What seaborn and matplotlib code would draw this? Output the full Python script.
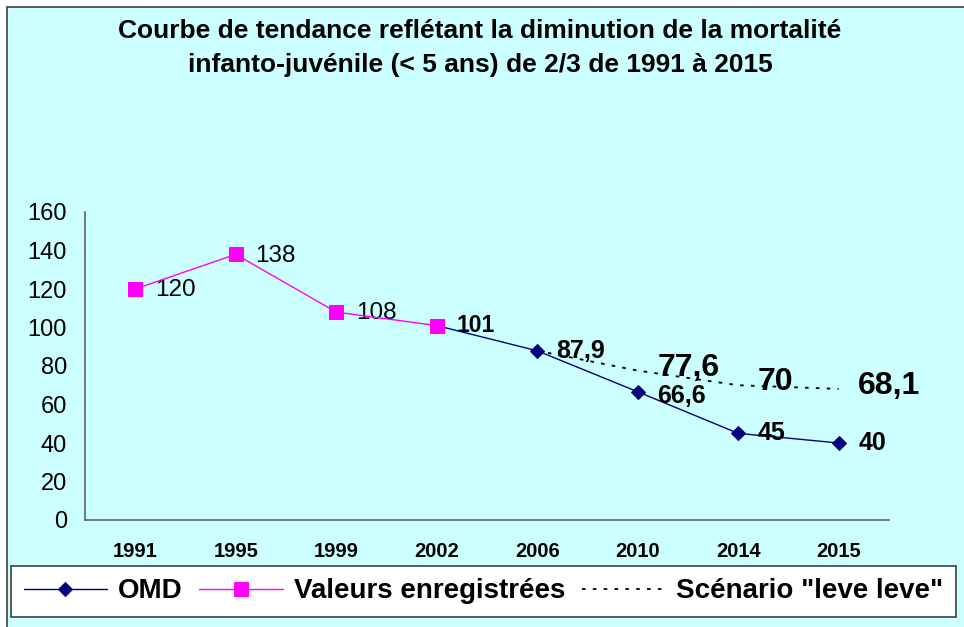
import matplotlib
matplotlib.use("Agg")
import matplotlib.pyplot as plt
import seaborn as sns
import numpy as np
import pandas as pd
from matplotlib.patches import Rectangle

years = ["1991", "1995", "1999", "2002", "2006", "2010", "2014", "2015"]
omd = [np.nan, np.nan, np.nan, 101, 87.9, 66.6, 45, 40]
valeurs = [120, 138, 108, 101, np.nan, np.nan, np.nan, np.nan]
scenario = [np.nan, np.nan, np.nan, np.nan, 87.9, 77.6, 70, 68.1]
omd_labels = ["", "", "", "101", "87,9", "66,6", "45", "40"]
val_labels = ["120", "138", "108", "", "", "", "", ""]
scen_labels = ["", "", "", "", "", "77,6", "70", "68,1"]

title = "Courbe de tendance reflétant la diminution de la mortalité\ninfanto-juvénile (< 5 ans) de 2/3 de 1991 à 2015"

sns.set_theme(style="white")
plt.rcParams["font.family"] = ["Liberation Sans", "DejaVu Sans"]
plt.rcParams["text.color"] = "black"
plt.rcParams["xtick.color"] = "black"
plt.rcParams["ytick.color"] = "black"

BG = "#CCFFFF"
NAVY = "#000080"
MAG = "#FF00FF"

fig = plt.figure(figsize=(9.64, 6.27), dpi=100)
fig.patch.set_facecolor("white")
fig.patches.append(Rectangle((7 / 964, -0.05), 1.2, 1 - 7 / 627 + 0.05, transform=fig.transFigure,
                             facecolor=BG, edgecolor="#404040", linewidth=1.2, zorder=-10))

ax = fig.add_axes([85 / 964, 1 - 520 / 627, (889 - 85) / 964, (520 - 212) / 627])
ax.set_facecolor(BG)
ax.patch.set_alpha(0)

pos = np.arange(len(years))
df = pd.DataFrame({"x": pos, "omd": omd, "val": valeurs, "scen": scenario})

sns.lineplot(data=df, x="x", y="scen", ax=ax, color="black", linewidth=1.3,
             linestyle=(0, (2, 4)), label='Scénario "leve leve"', zorder=2)
sns.lineplot(data=df, x="x", y="omd", ax=ax, color=NAVY, linewidth=1.0, marker="D",
             markersize=7, markeredgecolor=NAVY, markerfacecolor=NAVY, label="OMD", zorder=3)
sns.lineplot(data=df, x="x", y="val", ax=ax, color=MAG, linewidth=1.0, marker="s",
             markersize=10, markeredgecolor=MAG, markerfacecolor=MAG,
             label="Valeurs enregistrées", zorder=4)

for i in range(len(years)):
    if val_labels[i]:
        ax.annotate(val_labels[i], (pos[i], valeurs[i]), xytext=(14, -1), textcoords="offset points",
                    ha="left", va="center", fontsize=17.5, color="black")
    if omd_labels[i]:
        fs = 16.5 if i == 3 else 18
        dy = -3 if i == 5 else 0
        ax.annotate(omd_labels[i], (pos[i], omd[i]), xytext=(14, dy), textcoords="offset points",
                    ha="left", va="center", fontsize=fs, fontweight="bold", color="black")
    if scen_labels[i]:
        ax.annotate(scen_labels[i], (pos[i], scenario[i]), xytext=(14, 2), textcoords="offset points",
                    ha="left", va="center", fontsize=23, fontweight="bold", color="black")

ax.set_xlim(-0.5, len(years) - 0.5)
ax.set_ylim(0, 160)
ax.set_yticks(np.arange(0, 161, 20))
ax.set_xticks(pos)
ax.set_xticklabels(years, fontsize=14.5, fontweight="bold")
ax.set_xticks(np.arange(-0.5, len(years), 1), minor=True)
ax.tick_params(axis="x", which="major", length=0, pad=16)
ax.tick_params(axis="x", which="minor", length=5, width=1, color="#606060", direction="out")
ax.tick_params(axis="y", length=5, width=1, color="#606060", labelcolor="black", direction="out",
               labelsize=17, pad=8)
ax.set_xlabel("")
ax.set_ylabel("")
for s in ["top", "right"]:
    ax.spines[s].set_visible(False)
for s in ["left", "bottom"]:
    ax.spines[s].set_color("#606060")
    ax.spines[s].set_linewidth(1.2)

fig.text(480 / 964, 1 - 48 / 627, title, ha="center", va="center", fontsize=19, fontweight="bold",
         linespacing=1.5, color="black")

handles, labels = ax.get_legend_handles_labels()
order = [labels.index("OMD"), labels.index("Valeurs enregistrées"), labels.index('Scénario "leve leve"')]
ax.get_legend().remove()
leg = fig.legend([handles[i] for i in order], [labels[i] for i in order],
                 loc="upper left", bbox_to_anchor=(11 / 964, 1 - 566 / 627), ncol=3,
                 prop={"size": 20, "weight": "bold"}, frameon=True, fancybox=False,
                 handlelength=3.0, handletextpad=0.4, columnspacing=0.6, borderpad=0.45,
                 borderaxespad=0)
leg.get_frame().set_edgecolor("#404040")
leg.get_frame().set_linewidth(1.2)
leg.get_frame().set_facecolor("white")
leg.get_frame().set_alpha(1)

fig.savefig("out.png", dpi=100)
